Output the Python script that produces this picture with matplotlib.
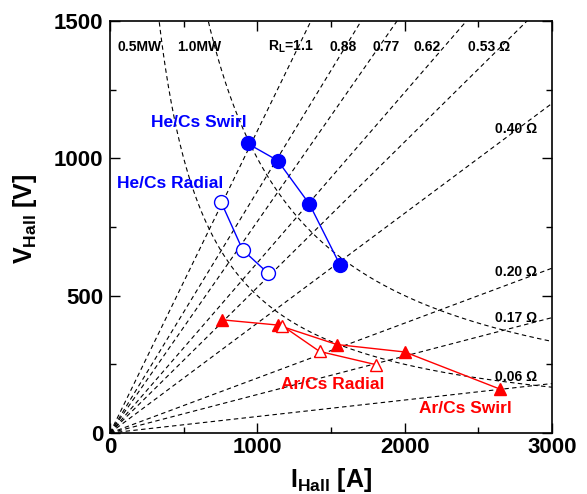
import numpy as np
import matplotlib.pyplot as plt

plt.rcParams['font.family'] = ['Liberation Sans', 'DejaVu Sans']
plt.rcParams['font.weight'] = 'bold'

# ---- Data ----
he_swirl_i = [934, 1138, 1354, 1562]
he_swirl_v = [1054, 992, 833, 611]
he_radial_i = [753, 900, 1070]
he_radial_v = [842, 667, 583]
ar_swirl_i = [760, 1138, 1540, 2000, 2646]
ar_swirl_v = [412, 393, 322, 295, 160]
ar_radial_i = [1168, 1422, 1803]
ar_radial_v = [391, 297, 249]

# constant load-resistance lines (ohm) and constant power curves (W)
load_r = [1.1, 0.88, 0.77, 0.62, 0.53, 0.40, 0.20, 0.14, 0.06]
power_w = [0.5e6, 1.0e6]

fig = plt.figure(figsize=(5.87, 4.94), dpi=100)
ax = fig.add_axes([0.1874, 0.1235, 0.753, 0.834])

i_grid = np.linspace(1, 3000, 600)
for r in load_r:
    ax.plot(i_grid, r * i_grid, ls=(0, (4, 3)), color='black', lw=0.8)
for p in power_w:
    ax.plot(i_grid, p / i_grid, ls=(0, (4, 3)), color='black', lw=0.8)

blue = '#0000ff'
red = '#ff0000'
ax.plot(he_swirl_i, he_swirl_v, '-o', color=blue, mfc=blue, ms=10, lw=1)
ax.plot(he_radial_i, he_radial_v, '-o', color=blue, mfc='white', ms=10, lw=1)
ax.plot(ar_swirl_i, ar_swirl_v, '-^', color=red, mfc=red, ms=9, lw=1)
ax.plot(ar_radial_i, ar_radial_v, '-^', color=red, mfc='white', ms=9, lw=1)

lab_fs = 12.5
ax.text(605, 1131, 'He/Cs Swirl', color=blue, fontsize=lab_fs, ha='center', va='center')
ax.text(410, 909, 'He/Cs Radial', color=blue, fontsize=lab_fs, ha='center', va='center')
ax.text(1514, 177, 'Ar/Cs Radial', color=red, fontsize=lab_fs, ha='center', va='center')
ax.text(2415, 90, 'Ar/Cs Swirl', color=red, fontsize=lab_fs, ha='center', va='center')

# annotations for curves
ann_fs = 10
top_v = 1405
ax.text(50, top_v, '0.5MW', fontsize=ann_fs, va='center')
ax.text(455, top_v, '1.0MW', fontsize=ann_fs, va='center')
ax.text(1070, top_v, r'R$_\mathregular{L}$=1.1', fontsize=ann_fs, va='center')
ax.text(1490, top_v, '0.88', fontsize=ann_fs, va='center')
ax.text(1780, top_v, '0.77', fontsize=ann_fs, va='center')
ax.text(2060, top_v, '0.62', fontsize=ann_fs, va='center')
ax.text(2430, top_v, '0.53 Ω', fontsize=ann_fs, va='center')
for txt, v in [('0.40 Ω', 1108), ('0.20 Ω', 585), ('0.17 Ω', 420), ('0.06 Ω', 205)]:
    ax.text(2610, v, txt, fontsize=ann_fs, va='center')

ax.set_xlim(0, 3000)
ax.set_ylim(0, 1500)
ax.set_xticks([0, 1000, 2000, 3000])
ax.set_xticks([500, 1500, 2500], minor=True)
ax.set_yticks([0, 500, 1000, 1500])
ax.set_yticks([250, 750, 1250], minor=True)
ax.tick_params(which='both', direction='in', top=True, right=True, labelsize=16)
ax.tick_params(axis='x', which='major', pad=3)
ax.tick_params(axis='y', which='major', pad=5)
ax.tick_params(which='major', length=7, width=1)
ax.tick_params(which='minor', length=4, width=1)
for s in ax.spines.values():
    s.set_linewidth(1.2)

ax.set_xlabel(r'I$_\mathregular{Hall}$ [A]', fontsize=18, fontweight='bold')
ax.set_ylabel(r'V$_\mathregular{Hall}$ [V]', fontsize=18, fontweight='bold')
ax.xaxis.set_label_coords(0.5, -0.08)
ax.yaxis.set_label_coords(-0.16, 0.52)

fig.savefig('out.png', dpi=100)
